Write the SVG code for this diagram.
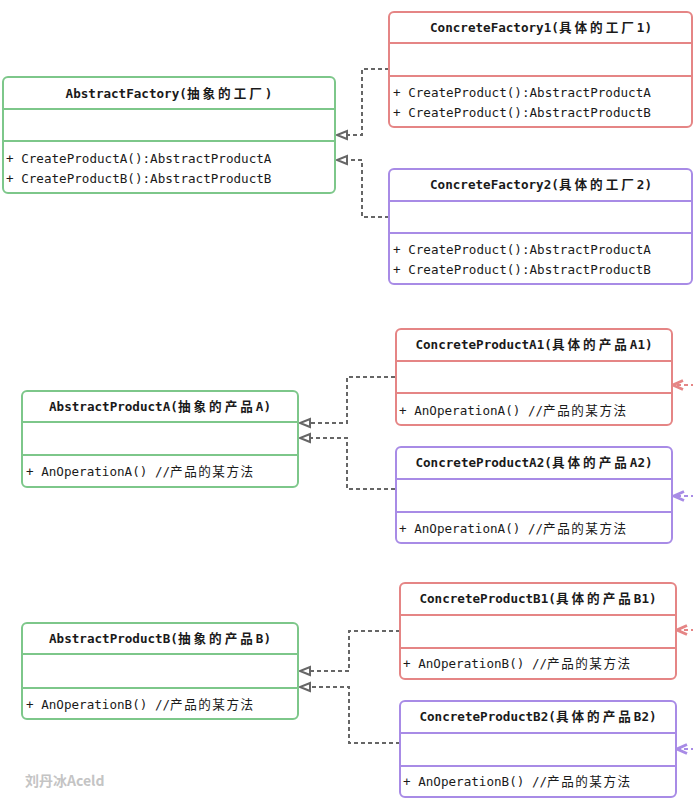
<svg xmlns="http://www.w3.org/2000/svg" width="693" height="803" viewBox="0 0 693 803">
<style>
.box{fill:#fff;stroke-width:2}
.g{stroke:#7dc78a}
.r{stroke:#e58585}
.p{stroke:#a88be6}
.t{font-family:"DejaVu Sans Mono","Liberation Mono","Noto Sans CJK SC",monospace;font-size:12.6px;fill:#1a1a1a;dominant-baseline:central}
.b{font-weight:bold;text-anchor:middle}
.cj{letter-spacing:3px}
.cm{letter-spacing:1.5px}
.conn{fill:none;stroke:#666;stroke-width:2;stroke-dasharray:4 3}
.wm{font-family:"Noto Sans CJK SC","Noto Sans",sans-serif;font-size:14px;font-weight:bold;fill:#c4c4c4}
</style>
<defs>
<marker id="tri" markerUnits="userSpaceOnUse" markerWidth="14" markerHeight="14" refX="12" refY="6" orient="auto" viewBox="0 0 14 12">
<path d="M2,2 L12,6 L2,10 z" fill="#fff" stroke="#666" stroke-width="2" stroke-linejoin="miter"/>
</marker>
<marker id="chR" markerUnits="userSpaceOnUse" markerWidth="14" markerHeight="14" refX="12" refY="6" orient="auto" viewBox="0 0 14 12">
<path d="M2,1.5 L12,6 L2,10.5" fill="none" stroke="#e58585" stroke-width="2.8"/>
</marker>
<marker id="chP" markerUnits="userSpaceOnUse" markerWidth="14" markerHeight="14" refX="12" refY="6" orient="auto" viewBox="0 0 14 12">
<path d="M2,1.5 L12,6 L2,10.5" fill="none" stroke="#a88be6" stroke-width="2.8"/>
</marker>
</defs>
<rect width="693" height="803" fill="#fff"/>

<g id="connectors">
<polyline class="conn" points="389,69 362,69 362,135 337,135" marker-end="url(#tri)"/>
<polyline class="conn" points="389,217 362,217 362,160 337,160" marker-end="url(#tri)"/>
<polyline class="conn" points="395,377 347,377 347,423 300,423" marker-end="url(#tri)"/>
<polyline class="conn" points="395,489 347,489 347,438 300,438" marker-end="url(#tri)"/>
<polyline class="conn" points="400,631 349,631 349,671 300,671" marker-end="url(#tri)"/>
<polyline class="conn" points="400,743 349,743 349,687 300,687" marker-end="url(#tri)"/>
<polyline class="conn" style="stroke:#e58585" points="695,385 673,385" marker-end="url(#chR)"/>
<polyline class="conn" style="stroke:#a88be6" points="695,496 674,496" marker-end="url(#chP)"/>
<polyline class="conn" style="stroke:#e58585" points="695,630 677,630" marker-end="url(#chR)"/>
<polyline class="conn" style="stroke:#a88be6" points="695,749 677,749" marker-end="url(#chP)"/>
</g>

<g id="AbstractFactory">
<rect class="box g" x="3" y="77" width="332" height="116" rx="5"/>
<line class="g" x1="3" y1="109" x2="335" y2="109" stroke-width="2"/>
<line class="g" x1="3" y1="141" x2="335" y2="141" stroke-width="2"/>
<text class="t b" x="169" y="93">AbstractFactory(<tspan class="cj">抽象的工厂</tspan>)</text>
<text class="t" x="6" y="158">+ CreateProductA():AbstractProductA</text>
<text class="t" x="6" y="178">+ CreateProductB():AbstractProductB</text>
</g>

<g id="ConcreteFactory1">
<rect class="box r" x="389" y="12" width="303" height="115" rx="5"/>
<line class="r" x1="389" y1="43" x2="692" y2="43" stroke-width="2"/>
<line class="r" x1="389" y1="76" x2="692" y2="76" stroke-width="2"/>
<text class="t b" x="541" y="27">ConcreteFactory1(<tspan class="cj">具体的工厂</tspan>1)</text>
<text class="t" x="393" y="92">+ CreateProduct():AbstractProductA</text>
<text class="t" x="393" y="112">+ CreateProduct():AbstractProductB</text>
</g>

<g id="ConcreteFactory2">
<rect class="box p" x="389" y="169" width="303" height="115" rx="5"/>
<line class="p" x1="389" y1="201" x2="692" y2="201" stroke-width="2"/>
<line class="p" x1="389" y1="233" x2="692" y2="233" stroke-width="2"/>
<text class="t b" x="541" y="184">ConcreteFactory2(<tspan class="cj">具体的工厂</tspan>2)</text>
<text class="t" x="393" y="249">+ CreateProduct():AbstractProductA</text>
<text class="t" x="393" y="269">+ CreateProduct():AbstractProductB</text>
</g>

<g id="AbstractProductA">
<rect class="box g" x="22" y="391" width="276" height="96" rx="5"/>
<line class="g" x1="22" y1="422" x2="298" y2="422" stroke-width="2"/>
<line class="g" x1="22" y1="455" x2="298" y2="455" stroke-width="2"/>
<text class="t b" x="160" y="406">AbstractProductA(<tspan class="cj">抽象的产品</tspan>A)</text>
<text class="t" x="26" y="471">+ AnOperationA() //<tspan class="cm">产品的某方法</tspan></text>
</g>

<g id="ConcreteProductA1">
<rect class="box r" x="396" y="329" width="276" height="96" rx="5"/>
<line class="r" x1="396" y1="361" x2="672" y2="361" stroke-width="2"/>
<line class="r" x1="396" y1="393" x2="672" y2="393" stroke-width="2"/>
<text class="t b" x="534" y="344">ConcreteProductA1(<tspan class="cj">具体的产品</tspan>A1)</text>
<text class="t" x="399" y="410">+ AnOperationA() //<tspan class="cm">产品的某方法</tspan></text>
</g>

<g id="ConcreteProductA2">
<rect class="box p" x="396" y="447" width="276" height="96" rx="5"/>
<line class="p" x1="396" y1="479" x2="672" y2="479" stroke-width="2"/>
<line class="p" x1="396" y1="512" x2="672" y2="512" stroke-width="2"/>
<text class="t b" x="534" y="462">ConcreteProductA2(<tspan class="cj">具体的产品</tspan>A2)</text>
<text class="t" x="399" y="528">+ AnOperationA() //<tspan class="cm">产品的某方法</tspan></text>
</g>

<g id="AbstractProductB">
<rect class="box g" x="22" y="623" width="276" height="96" rx="5"/>
<line class="g" x1="22" y1="654" x2="298" y2="654" stroke-width="2"/>
<line class="g" x1="22" y1="688" x2="298" y2="688" stroke-width="2"/>
<text class="t b" x="160" y="638">AbstractProductB(<tspan class="cj">抽象的产品</tspan>B)</text>
<text class="t" x="26" y="704">+ AnOperationB() //<tspan class="cm">产品的某方法</tspan></text>
</g>

<g id="ConcreteProductB1">
<rect class="box r" x="400" y="583" width="276" height="96" rx="5"/>
<line class="r" x1="400" y1="615" x2="676" y2="615" stroke-width="2"/>
<line class="r" x1="400" y1="648" x2="676" y2="648" stroke-width="2"/>
<text class="t b" x="538" y="598">ConcreteProductB1(<tspan class="cj">具体的产品</tspan>B1)</text>
<text class="t" x="403" y="663">+ AnOperationB() //<tspan class="cm">产品的某方法</tspan></text>
</g>

<g id="ConcreteProductB2">
<rect class="box p" x="400" y="701" width="276" height="96" rx="5"/>
<line class="p" x1="400" y1="733" x2="676" y2="733" stroke-width="2"/>
<line class="p" x1="400" y1="766" x2="676" y2="766" stroke-width="2"/>
<text class="t b" x="538" y="716">ConcreteProductB2(<tspan class="cj">具体的产品</tspan>B2)</text>
<text class="t" x="403" y="781">+ AnOperationB() //<tspan class="cm">产品的某方法</tspan></text>
</g>

<text class="wm" x="25" y="786">刘丹冰Aceld</text>
</svg>
